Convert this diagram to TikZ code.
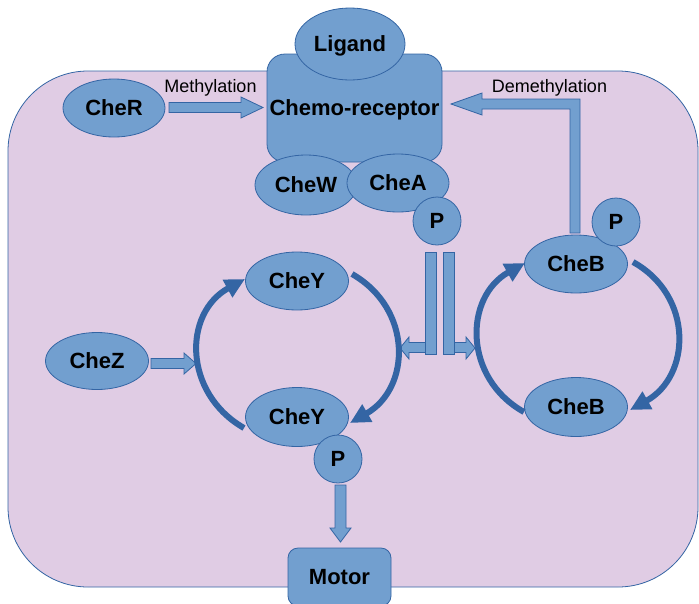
\documentclass[tikz,border=0pt]{standalone}
\usepackage{fontspec}
\setmainfont{Liberation Sans}
\usetikzlibrary{shapes.geometric,arrows.meta}
\definecolor{bfill}{HTML}{729FCF}
\definecolor{bline}{HTML}{3465A4}
\definecolor{cellfill}{HTML}{E0CCE4}
\begin{document}
\begin{tikzpicture}[x=1pt,y=-1pt,
  lblfont/.style={font=\fontsize{22}{26}\selectfont\bfseries, text height=15.8pt, text depth=0.6pt},
  prot/.style={ellipse, draw=bline, fill=bfill, line width=0.8pt, inner sep=0pt, lblfont},
  phos/.style={circle, draw=bline, fill=bfill, line width=0.8pt, inner sep=0pt, minimum size=48pt, lblfont},
  boxnode/.style={rectangle, draw=bline, fill=bfill, line width=0.8pt, inner sep=0pt, lblfont},
  cellbox/.style={rectangle, draw=bline, fill=cellfill, line width=0.8pt, rounded corners=80pt, inner sep=0pt},
  blockarrow/.style={draw=bline, fill=bfill, line width=0.8pt, line join=miter},
  cyc/.style={draw=bline, line width=6pt, -{Triangle[length=20pt,width=19pt]}},
  note/.style={font=\fontsize{18}{21}\selectfont, text height=12.9pt, text depth=0pt, inner sep=0pt}
]
\useasboundingbox (0,0) rectangle (699,603);
\clip (0,0) rectangle (699,603);

% cell
\node[cellbox, minimum width=690pt, minimum height=516pt] (cell) at (353,329) {};

% receptor complex
\node[boxnode, rounded corners=18pt, minimum width=175pt, minimum height=108pt] (rec) at (354.5,108) {Chemo-receptor};
\node[prot, minimum width=110pt, minimum height=72pt] (ligand) at (350,44) {Ligand};
\node[prot, minimum width=102pt, minimum height=60pt] (cheW) at (306,185) {CheW};
\node[prot, minimum width=102pt, minimum height=58pt] (cheA) at (398,183) {CheA};
\node[phos] (pA) at (437,221) {P};

% CheR and methylation
\node[prot, minimum width=102pt, minimum height=58pt] (cheR) at (114,108) {CheR};
\draw[blockarrow] (169,102.5) -- (241,102.5) -- (241,97) -- (263,107.5) -- (241,118) -- (241,112.5) -- (169,112.5) -- cycle;
\node[note] (meth) at (210.5,86) {Methylation};

% demethylation
\draw[blockarrow] (580,233) -- (580,99) -- (482,99) -- (482,93) -- (451,104) -- (482,115) -- (482,109) -- (570,109) -- (570,233) -- cycle;
\node[note] (demeth) at (549.5,86) {Demethylation};

% CheB
\node[prot, minimum width=103pt, minimum height=58pt] (cheBt) at (576,264) {CheB};
\node[phos] (pB) at (616,222) {P};
\node[prot, minimum width=103pt, minimum height=59pt] (cheBb) at (576,407) {CheB};

% CheY
\node[prot, minimum width=103pt, minimum height=58pt] (cheYt) at (297,281) {CheY};
\node[prot, minimum width=103pt, minimum height=59pt] (cheYb) at (297,417) {CheY};
\node[phos] (pY) at (338,459) {P};

% CheZ
\node[prot, minimum width=103pt, minimum height=57pt] (cheZ) at (97,361) {CheZ};
\draw[blockarrow] (151,358.5) -- (184,358.5) -- (184,353) -- (196,363.5) -- (184,374) -- (184,368.5) -- (151,368.5) -- cycle;

% phosphotransfer bars
\draw[blockarrow] (426,342.5) -- (409,342.5) -- (409,337) -- (400,348) -- (409,359) -- (409,352.5) -- (426,352.5) -- cycle;
\draw[blockarrow] (453,342.5) -- (466,342.5) -- (466,337) -- (475,348) -- (466,359) -- (466,352.5) -- (453,352.5) -- cycle;
\draw[blockarrow] (425,252) rectangle (436,354);
\draw[blockarrow] (443,252) rectangle (454,354);

% cycle arcs
\coordinate (yl1) at (244,428); \coordinate (yl2) at (245,279);
\coordinate (yr1) at (352,274); \coordinate (yr2) at (350,423);
\coordinate (bl1) at (524,412); \coordinate (bl2) at (525,263);
\coordinate (br1) at (633,262); \coordinate (br2) at (630,410);
\draw[cyc] (yl1) .. controls (183,393) and (183,313) .. (yl2);
\draw[cyc] (yr1) .. controls (413,309) and (411,388) .. (yr2);
\draw[cyc] (bl1) .. controls (463,378) and (464,297) .. (bl2);
\draw[cyc] (br1) .. controls (694,296) and (691,376) .. (br2);

% motor
\draw[blockarrow] (335,485) -- (346,485) -- (346,528) -- (351,528) -- (340.5,542) -- (330,528) -- (335,528) -- cycle;
\node[boxnode, rounded corners=10pt, minimum width=103pt, minimum height=58pt] (motor) at (339.5,577) {Motor};
\end{tikzpicture}
\end{document}
